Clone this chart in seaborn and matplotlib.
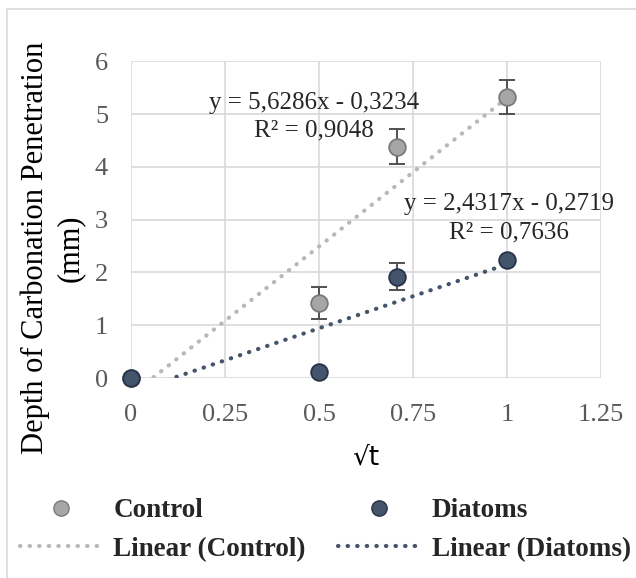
"""
Carbonation depth vs sqrt(t) for control and diatom-modified specimens,
with Excel-style linear trendlines.
"""

import matplotlib.pyplot as plt
import numpy as np
import pandas as pd
import seaborn as sns
from matplotlib.lines import Line2D
from matplotlib.patches import Rectangle

SQRT_T = [0.0, 0.5, 0.707, 1.0]
CONTROL = [0.0, 1.42, 4.38, 5.33]
CONTROL_ERR = [0.0, 0.31, 0.33, 0.32]
DIATOMS = [0.0, 0.12, 1.92, 2.23]
DIATOMS_ERR = [0.0, 0.0, 0.25, 0.0]

X_TICKS = [0, 0.25, 0.5, 0.75, 1, 1.25]
X_TICK_LABELS = ["0", "0.25", "0.5", "0.75", "1", "1.25"]
Y_TICKS = [0, 1, 2, 3, 4, 5, 6]

EQ_CONTROL = ["y = 5,6286x - 0,3234", "R² = 0,9048"]
EQ_DIATOMS = ["y = 2,4317x - 0,2719", "R² = 0,7636"]

CTRL_FILL, CTRL_EDGE, CTRL_LINE = "#a6a6a6", "#7a7a7a", "#b8b8b8"
DIAT_FILL, DIAT_EDGE, DIAT_LINE = "#44546a", "#26334a", "#44546a"
SERIF = "Liberation Serif"
DOTS = (0, (0.1, 2.2))

sns.set_theme(style="whitegrid")
plt.rcParams["font.family"] = [SERIF, "DejaVu Sans"]

df = pd.DataFrame({"x": SQRT_T, "Control": CONTROL, "Diatoms": DIATOMS})

fig = plt.figure(figsize=(6.36, 5.78), dpi=100)
ax = fig.add_axes([0.206, 0.346, 0.739, 0.548])

# chart-area frame like the Excel export
fig.patches.append(Rectangle((7 / 636, -0.1), 1.2, 1 - 9 / 578 + 0.1,
                             transform=fig.transFigure, fill=False,
                             edgecolor="#d9d9d9", linewidth=1.2))

# trendlines (least squares over the plotted points, drawn over 0..1 like Excel)
for name, color in [("Control", CTRL_LINE), ("Diatoms", DIAT_LINE)]:
    slope, intercept = np.polyfit(df["x"], df[name], 1)
    xs = np.linspace(0, 1, 50)
    ax.plot(xs, slope * xs + intercept, color=color, linewidth=3,
            linestyle=DOTS, dash_capstyle="round", zorder=2)

# error bars
ax.errorbar(df["x"], df["Control"], yerr=CONTROL_ERR, fmt="none",
            ecolor="#505050", elinewidth=1.4, capsize=6, capthick=1.4, zorder=3)
ax.errorbar(df["x"], df["Diatoms"], yerr=DIATOMS_ERR, fmt="none",
            ecolor="#505050", elinewidth=1.4, capsize=6, capthick=1.4, zorder=3)

sns.scatterplot(data=df, x="x", y="Control", ax=ax, s=144, color=CTRL_FILL,
                edgecolor=CTRL_EDGE, linewidth=1.3, zorder=4, clip_on=False)
sns.scatterplot(data=df, x="x", y="Diatoms", ax=ax, s=144, color=DIAT_FILL,
                edgecolor=DIAT_EDGE, linewidth=1.3, zorder=5, clip_on=False)

ax.set_xlim(0, 1.25)
ax.set_ylim(0, 6)
ax.set_xticks(X_TICKS)
ax.set_xticklabels(X_TICK_LABELS)
ax.set_yticks(Y_TICKS)
ax.tick_params(labelsize=19, colors="#595959", length=0)
ax.tick_params(axis="x", pad=19)
ax.tick_params(axis="y", pad=16.5)
for lbl in ax.get_xticklabels() + ax.get_yticklabels():
    lbl.set_fontfamily(SERIF)
ax.grid(True, color="#d9d9d9", linewidth=1.2)
for side in ax.spines.values():
    side.set_visible(False)
ax.set_facecolor("white")

ax.set_xlabel("√t", fontsize=19, family="DejaVu Sans", color="black", labelpad=13)
ax.set_ylabel("")
fig.text(0.083, 0.571, "Depth of Carbonation Penetration\n(mm)", rotation=90,
         ha="center", va="center", fontsize=22, family=SERIF,
         linespacing=1.25, color="black")

ax.text(0.487, 5.21, EQ_CONTROL[0], ha="center", va="center", fontsize=18,
        family=SERIF)
ax.text(0.487, 4.68, EQ_CONTROL[1], ha="center", va="center", fontsize=18,
        family=SERIF)
ax.text(1.005, 3.30, EQ_DIATOMS[0], ha="center", va="center", fontsize=18,
        family=SERIF)
ax.text(1.005, 2.75, EQ_DIATOMS[1], ha="center", va="center", fontsize=18,
        family=SERIF)

handles = [
    Line2D([], [], marker="o", linestyle="none", markersize=11,
           markerfacecolor=CTRL_FILL, markeredgecolor=CTRL_EDGE),
    Line2D([], [], color=CTRL_LINE, linewidth=3, linestyle=DOTS,
           dash_capstyle="round"),
    Line2D([], [], marker="o", linestyle="none", markersize=11,
           markerfacecolor=DIAT_FILL, markeredgecolor=DIAT_EDGE),
    Line2D([], [], color=DIAT_LINE, linewidth=3, linestyle=DOTS,
           dash_capstyle="round"),
]
labels = ["Control", "Linear (Control)", "Diatoms", "Linear (Diatoms)"]
fig.legend(handles, labels, ncol=2, loc="center left",
           bbox_to_anchor=(20 / 636, 0.083), frameon=False, borderpad=0,
           borderaxespad=0, handlelength=3.0, handletextpad=0.45,
           columnspacing=1.2, labelspacing=0.5,
           prop={"family": SERIF, "weight": "bold", "size": 19.5})

fig.savefig("out.png", dpi=100)
